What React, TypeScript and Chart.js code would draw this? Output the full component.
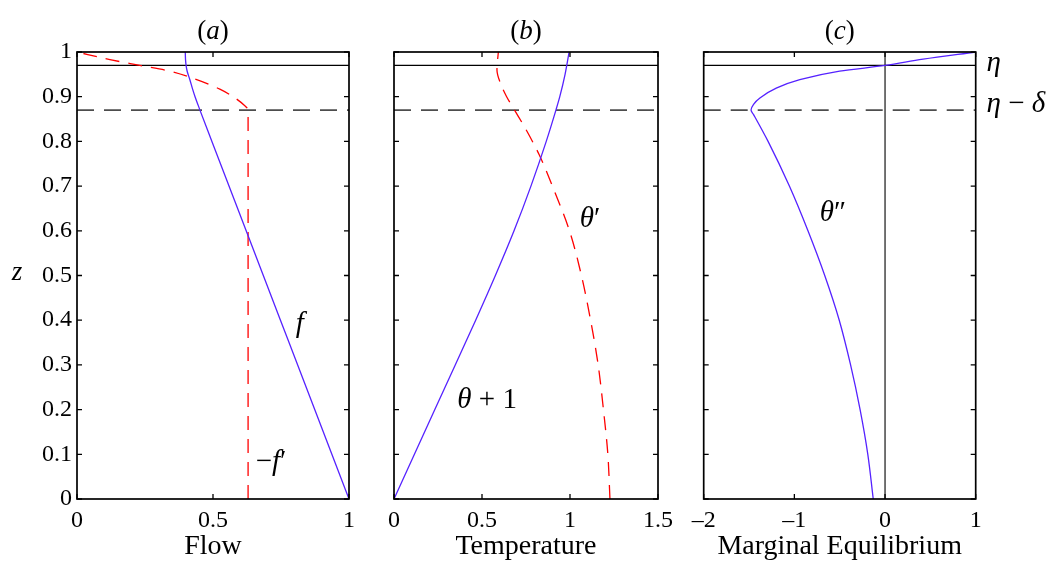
import React, { useEffect, useRef } from "react";
import { Chart, registerables } from "chart.js";

Chart.register(...registerables);

const SERIF = '"Liberation Serif", "Times New Roman", serif';

// Reference levels
const ETA = 0.97;
const ETA_MINUS_DELTA = 0.87;

// Shared vertical axis
const zTicks = [0, 0.1, 0.2, 0.3, 0.4, 0.5, 0.6, 0.7, 0.8, 0.9, 1];

// (a) Flow
const flowTicks = [0, 0.5, 1];
const flowZ = [0, 0.2, 0.4, 0.6, 0.8, 0.87, 0.88, 0.9, 0.917, 0.938, 0.957, 0.97, 0.983, 1.0];
const flowF = [1.0, 0.874, 0.748, 0.622, 0.496, 0.452, 0.446, 0.434, 0.425, 0.415, 0.405, 0.401, 0.399, 0.398];
const flowDfZ = [0, 0.2, 0.4, 0.6, 0.8, 0.87, 0.875, 0.88, 0.9, 0.917, 0.938, 0.957, 0.97, 0.983, 1.0];
const flowMinusDf = [0.629, 0.629, 0.629, 0.629, 0.629, 0.629, 0.625, 0.617, 0.574, 0.525, 0.44, 0.342, 0.231, 0.121, 0.0];

// (b) Temperature
const tempTicks = [0, 0.5, 1, 1.5];
const tempZ = [0, 0.1, 0.2, 0.3, 0.4, 0.5, 0.6, 0.7, 0.8, 0.87, 0.9, 0.95, 1.0];
const tempThetaPlus1 = [0, 0.116, 0.232, 0.348, 0.464, 0.576, 0.682, 0.778, 0.865, 0.92, 0.942, 0.972, 0.995];
const tempPrimeZ = [0, 0.1, 0.2, 0.3, 0.4, 0.5, 0.6, 0.7, 0.77, 0.83, 0.87, 0.9, 0.93, 0.96, 0.98, 1.0];
const tempThetaPrime = [1.227, 1.215, 1.19, 1.16, 1.117, 1.065, 0.997, 0.9, 0.825, 0.745, 0.685, 0.64, 0.605, 0.585, 0.588, 0.593];

// (c) Marginal Equilibrium
const margTicks = [-2, -1, 0, 1];
const margZ = [0, 0.1, 0.2, 0.3, 0.4, 0.5, 0.6, 0.7, 0.8, 0.86, 0.87, 0.883, 0.897, 0.919, 0.938, 0.957, 0.97, 0.984, 1.0];
const margThetaDouble = [-0.13, -0.19, -0.275, -0.38, -0.505, -0.665, -0.85, -1.055, -1.29, -1.45, -1.478, -1.45, -1.38, -1.2, -0.94, -0.5, 0, 0.42, 1.0];

const BLUE = "#5522ff";
const RED = "#ff0000";

type Seg = { t: string; it?: boolean };
type Note = { segs: Seg[]; x: number; z: number; size: number; align: "left" | "center" };
type Series = { xs: number[]; zs: number[]; color: string; dash: number[]; width: number };
type Panel = {
  title: Seg[];
  xTitle: string;
  xMin: number;
  xMax: number;
  xTicks: number[];
  left: number;
  width: number;
  yWidth: number;
  padRight: number;
  showY: boolean;
  zeroLine: boolean;
  series: Series[];
  notes: Note[];
};

const NOTE_SIZE = 29;

const panels: Panel[] = [
  {
    title: [{ t: "(" }, { t: "a", it: true }, { t: ")" }],
    xTitle: "Flow",
    xMin: 0,
    xMax: 1,
    xTicks: flowTicks,
    left: 0,
    width: 362,
    yWidth: 77,
    padRight: 12.7,
    showY: true,
    zeroLine: false,
    series: [
      { xs: flowF, zs: flowZ, color: BLUE, dash: [], width: 1.3 },
      { xs: flowMinusDf, zs: flowDfZ, color: RED, dash: [14, 9], width: 1.3 },
    ],
    notes: [
      { segs: [{ t: "f", it: true }], x: 0.819, z: 0.39, size: NOTE_SIZE, align: "center" },
      { segs: [{ t: "−" }, { t: "f", it: true }, { t: "′" }], x: 0.657, z: 0.083, size: NOTE_SIZE, align: "left" },
    ],
  },
  {
    title: [{ t: "(" }, { t: "b", it: true }, { t: ")" }],
    xTitle: "Temperature",
    xMin: 0,
    xMax: 1.5,
    xTicks: tempTicks,
    left: 362,
    width: 320,
    yWidth: 32,
    padRight: 24,
    showY: false,
    zeroLine: false,
    series: [
      { xs: tempThetaPlus1, zs: tempZ, color: BLUE, dash: [], width: 1.3 },
      { xs: tempThetaPrime, zs: tempPrimeZ, color: RED, dash: [14, 9], width: 1.3 },
    ],
    notes: [
      { segs: [{ t: "θ", it: true }, { t: " + 1" }], x: 0.36, z: 0.22, size: NOTE_SIZE, align: "left" },
      { segs: [{ t: "θ", it: true }, { t: "′" }], x: 1.055, z: 0.625, size: NOTE_SIZE, align: "left" },
    ],
  },
  {
    title: [{ t: "(" }, { t: "c", it: true }, { t: ")" }],
    xTitle: "Marginal Equilibrium",
    xMin: -2,
    xMax: 1,
    xTicks: margTicks,
    left: 682,
    width: 370,
    yWidth: 21.7,
    padRight: 76.3,
    showY: false,
    zeroLine: true,
    series: [{ xs: margThetaDouble, zs: margZ, color: BLUE, dash: [], width: 1.3 }],
    notes: [
      { segs: [{ t: "θ", it: true }, { t: "″" }], x: -0.72, z: 0.638, size: NOTE_SIZE, align: "left" },
      { segs: [{ t: "η", it: true }], x: 1.12, z: 0.975, size: NOTE_SIZE, align: "left" },
      { segs: [{ t: "η", it: true }, { t: " − " }, { t: "δ", it: true }], x: 1.12, z: 0.882, size: NOTE_SIZE, align: "left" },
    ],
  },
];

function drawRich(ctx: CanvasRenderingContext2D, segs: Seg[], x: number, y: number, size: number, align: "left" | "center") {
  const fonts = segs.map((s) => `${s.it ? "italic " : ""}${size}px ${SERIF}`);
  let total = 0;
  const widths = segs.map((s, i) => {
    ctx.font = fonts[i];
    const w = ctx.measureText(s.t).width;
    total += w;
    return w;
  });
  let cx = align === "center" ? x - total / 2 : x;
  ctx.textBaseline = "middle";
  ctx.textAlign = "left";
  ctx.fillStyle = "#000";
  segs.forEach((s, i) => {
    ctx.font = fonts[i];
    ctx.fillText(s.t, cx, y);
    cx += widths[i];
  });
}

function makeFramePlugin(p: Panel) {
  return {
    id: "frame",
    afterDatasetsDraw(chart: any) {
      const { ctx, chartArea: a, scales } = chart;
      const xs = scales.x;
      const ys = scales.y;
      ctx.save();
      ctx.strokeStyle = "#000";
      // inward ticks
      ctx.lineWidth = 1.3;
      const tl = 5;
      ctx.beginPath();
      for (const v of p.xTicks) {
        const px = xs.getPixelForValue(v);
        ctx.moveTo(px, a.bottom);
        ctx.lineTo(px, a.bottom - tl);
        ctx.moveTo(px, a.top);
        ctx.lineTo(px, a.top + tl);
      }
      for (const v of zTicks) {
        const py = ys.getPixelForValue(v);
        ctx.moveTo(a.left, py);
        ctx.lineTo(a.left + tl, py);
        ctx.moveTo(a.right, py);
        ctx.lineTo(a.right - tl, py);
      }
      ctx.stroke();
      // box
      ctx.lineWidth = 1.7;
      ctx.strokeRect(a.left, a.top, a.right - a.left, a.bottom - a.top);
      // title
      drawRich(ctx, p.title, (a.left + a.right) / 2, 31.5, 27, "center");
      // y label
      if (p.showY) {
        drawRich(ctx, [{ t: "z", it: true }], 17, (a.top + a.bottom) / 2 - 3, 27, "center");
      }
      // notes
      for (const n of p.notes) {
        drawRich(ctx, n.segs, xs.getPixelForValue(n.x), ys.getPixelForValue(n.z), n.size, n.align);
      }
      ctx.restore();
    },
  };
}

function fmt(v: number): string {
  const r = Math.round(v * 10) / 10;
  return r < 0 ? "–" + String(Math.abs(r)) : String(r);
}

function buildChart(canvas: HTMLCanvasElement, p: Panel) {
  const datasets: any[] = p.series.map((s) => ({
    data: s.zs.map((z, i) => ({ x: s.xs[i], y: z })),
    showLine: true,
    indexAxis: "y",
    cubicInterpolationMode: "monotone",
    borderColor: s.color,
    borderWidth: s.width,
    borderDash: s.dash,
    pointRadius: 0,
    fill: false,
  }));
  datasets.push({
    data: [{ x: p.xMin, y: ETA }, { x: p.xMax, y: ETA }],
    showLine: true,
    borderColor: "#000",
    borderWidth: 1.1,
    pointRadius: 0,
  });
  datasets.push({
    data: [{ x: p.xMin, y: ETA_MINUS_DELTA }, { x: p.xMax, y: ETA_MINUS_DELTA }],
    showLine: true,
    borderColor: "#4d4d4d",
    borderWidth: 1.8,
    borderDash: [17, 10],
    pointRadius: 0,
  });
  if (p.zeroLine) {
    datasets.push({
      data: [{ x: 0, y: 0 }, { x: 0, y: 1 }],
      showLine: true,
      borderColor: "#000",
      borderWidth: 1.1,
      pointRadius: 0,
    });
  }
  return new Chart(canvas, {
    type: "scatter",
    data: { datasets },
    options: {
      animation: false,
      responsive: false,
      maintainAspectRatio: false,
      devicePixelRatio: 1,
      layout: { padding: { top: 52, right: p.padRight, left: 0, bottom: 0 } },
      plugins: { legend: { display: false }, tooltip: { enabled: false }, title: { display: false } },
      elements: { point: { radius: 0 } },
      scales: {
        x: {
          type: "linear",
          position: "bottom",
          min: p.xMin,
          max: p.xMax,
          grid: { display: false, drawTicks: false },
          border: { display: false },
          afterBuildTicks: (s: any) => {
            s.ticks = p.xTicks.map((v) => ({ value: v }));
          },
          ticks: {
            font: { family: SERIF, size: 24 },
            color: "#000",
            padding: 7,
            maxRotation: 0,
            autoSkip: false,
            callback: (v: any) => fmt(Number(v)),
          },
          title: {
            display: true,
            text: p.xTitle,
            font: { family: SERIF, size: 28 },
            color: "#000",
            padding: { top: 0, bottom: 0 },
          },
          afterFit: (s: any) => {
            s.height = 64;
          },
        },
        y: {
          type: "linear",
          position: "left",
          min: 0,
          max: 1,
          grid: { display: false, drawTicks: false },
          border: { display: false },
          afterBuildTicks: (s: any) => {
            s.ticks = zTicks.map((v) => ({ value: v }));
          },
          ticks: {
            display: p.showY,
            font: { family: SERIF, size: 24 },
            color: "#000",
            padding: 5,
            autoSkip: false,
            callback: (v: any) => fmt(Number(v)),
          },
          afterFit: (s: any) => {
            s.width = p.yWidth;
          },
        },
      },
    } as any,
    plugins: [makeFramePlugin(p)],
  });
}

function PanelCanvas({ p }: { p: Panel }) {
  const ref = useRef<HTMLCanvasElement | null>(null);
  useEffect(() => {
    if (!ref.current) return;
    const chart = buildChart(ref.current, p);
    return () => chart.destroy();
  }, [p]);
  return (
    <canvas
      ref={ref}
      width={p.width}
      height={563}
      style={{ position: "absolute", left: p.left, top: 0, width: p.width, height: 563, display: "block" }}
    />
  );
}

export default function App() {
  return (
    <div style={{ position: "absolute", left: 0, top: 0, width: 1052, height: 563, background: "#fff" }}>
      {panels.map((p, i) => (
        <PanelCanvas key={i} p={p} />
      ))}
    </div>
  );
}
